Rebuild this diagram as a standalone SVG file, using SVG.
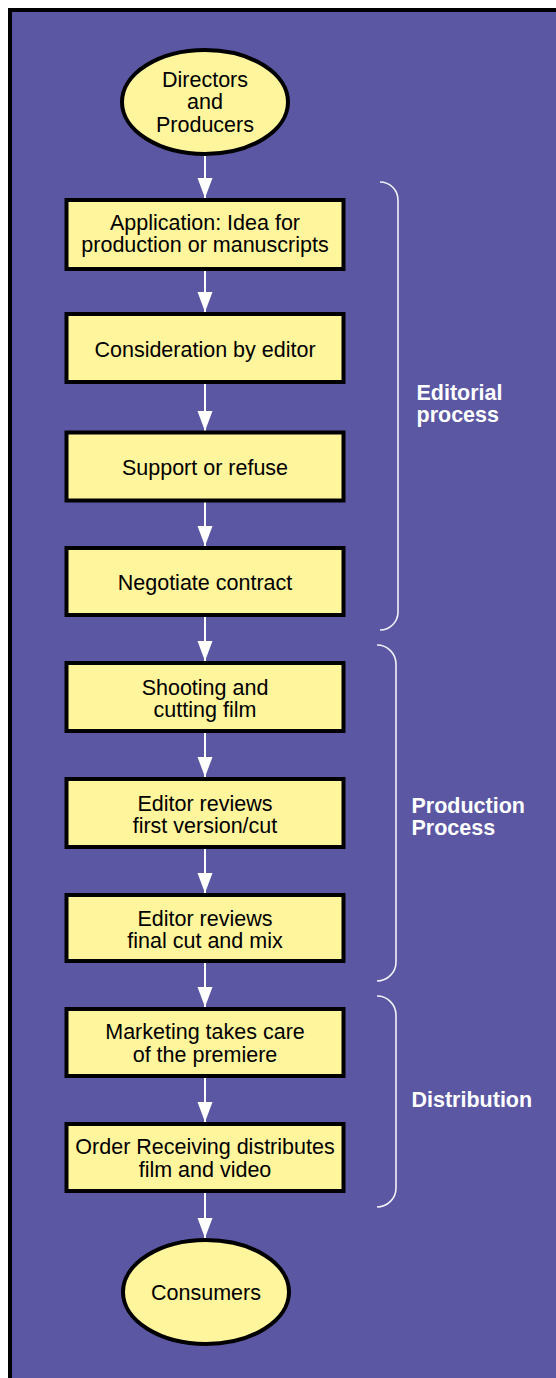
<svg xmlns="http://www.w3.org/2000/svg" width="556" height="1378" viewBox="0 0 556 1378">
<style>
.box{fill:#fff59c;stroke:#000;stroke-width:4}
.t{font-family:"Liberation Sans",Arial,sans-serif;font-size:21.5px;fill:#000;text-anchor:middle}
.lbl{font-family:"Liberation Sans",Arial,sans-serif;font-size:21.5px;font-weight:bold;fill:#fff}
.conn{stroke:#fff;stroke-width:2;fill:none}
.br{stroke:#f2f2fa;stroke-width:1.6;fill:none}
</style>
<defs>
<marker id="ah" markerUnits="userSpaceOnUse" markerWidth="20" markerHeight="16" refX="20" refY="8" orient="auto">
<path d="M0,0.5 L20,8 L0,15.5 z" fill="#fff"/>
</marker>
</defs>
<rect x="0" y="0" width="556" height="1378" fill="#fff"/>
<rect x="10" y="10" width="600" height="1400" fill="#5b57a3" stroke="#000" stroke-width="4"/>
<g id="connectors">
<line class="conn" x1="205" y1="156" x2="205" y2="198" marker-end="url(#ah)"/>
<line class="conn" x1="205" y1="271" x2="205" y2="312" marker-end="url(#ah)"/>
<line class="conn" x1="205" y1="384" x2="205" y2="431" marker-end="url(#ah)"/>
<line class="conn" x1="205" y1="502" x2="205" y2="546" marker-end="url(#ah)"/>
<line class="conn" x1="205" y1="617" x2="205" y2="661" marker-end="url(#ah)"/>
<line class="conn" x1="205" y1="733" x2="205" y2="777" marker-end="url(#ah)"/>
<line class="conn" x1="205" y1="849" x2="205" y2="893" marker-end="url(#ah)"/>
<line class="conn" x1="205" y1="963" x2="205" y2="1007" marker-end="url(#ah)"/>
<line class="conn" x1="205" y1="1078" x2="205" y2="1122" marker-end="url(#ah)"/>
<line class="conn" x1="205" y1="1193" x2="205" y2="1238" marker-end="url(#ah)"/>
</g>
<g id="n-directors">
<ellipse class="box" cx="205" cy="102" rx="83" ry="52"/>
<text class="t" x="205" y="87">Directors</text>
<text class="t" x="205" y="109">and</text>
<text class="t" x="205" y="131.5">Producers</text>
</g>
<g id="n-application">
<rect class="box" x="66.5" y="200" width="277" height="69"/>
<text class="t" x="205" y="229.5">Application: Idea for</text>
<text class="t" x="205" y="252">production or manuscripts</text>
</g>
<g id="n-consideration">
<rect class="box" x="66.5" y="314" width="277" height="68"/>
<text class="t" x="205" y="356.5">Consideration by editor</text>
</g>
<g id="n-support">
<rect class="box" x="66.5" y="432.5" width="277" height="68"/>
<text class="t" x="205" y="475">Support or refuse</text>
</g>
<g id="n-negotiate">
<rect class="box" x="66.5" y="548" width="277" height="67"/>
<text class="t" x="205" y="590">Negotiate contract</text>
</g>
<g id="n-shooting">
<rect class="box" x="66.5" y="663" width="277" height="68"/>
<text class="t" x="205" y="695">Shooting and</text>
<text class="t" x="205" y="717">cutting film</text>
</g>
<g id="n-review1">
<rect class="box" x="66.5" y="779" width="277" height="68"/>
<text class="t" x="205" y="811">Editor reviews</text>
<text class="t" x="205" y="833">first version/cut</text>
</g>
<g id="n-review2">
<rect class="box" x="66.5" y="895" width="277" height="66"/>
<text class="t" x="205" y="926">Editor reviews</text>
<text class="t" x="205" y="948">final cut and mix</text>
</g>
<g id="n-marketing">
<rect class="box" x="66.5" y="1009" width="277" height="67"/>
<text class="t" x="205" y="1038.5">Marketing takes care</text>
<text class="t" x="205" y="1061.5">of the premiere</text>
</g>
<g id="n-order">
<rect class="box" x="66.5" y="1124" width="277" height="67"/>
<text class="t" x="205" y="1154">Order Receiving distributes</text>
<text class="t" x="205" y="1177">film and video</text>
</g>
<g id="n-consumers">
<ellipse class="box" cx="206" cy="1292" rx="83" ry="52"/>
<text class="t" x="206" y="1300">Consumers</text>
</g>
<g id="brackets">
<path class="br" d="M380,182 A18,18 0 0 1 398,200 L398,612 A18,18 0 0 1 380,630"/>
<path class="br" d="M377,645 A19,19 0 0 1 396,664 L396,962 A19,19 0 0 1 377,981"/>
<path class="br" d="M377,996 A19,19 0 0 1 396,1015 L396,1188 A19,19 0 0 1 377,1207"/>
</g>
<g id="labels">
<text class="lbl" x="416.5" y="400">Editorial</text>
<text class="lbl" x="416.5" y="422">process</text>
<text class="lbl" x="411.5" y="813">Production</text>
<text class="lbl" x="411.5" y="835">Process</text>
<text class="lbl" x="411.5" y="1107">Distribution</text>
</g>
</svg>
